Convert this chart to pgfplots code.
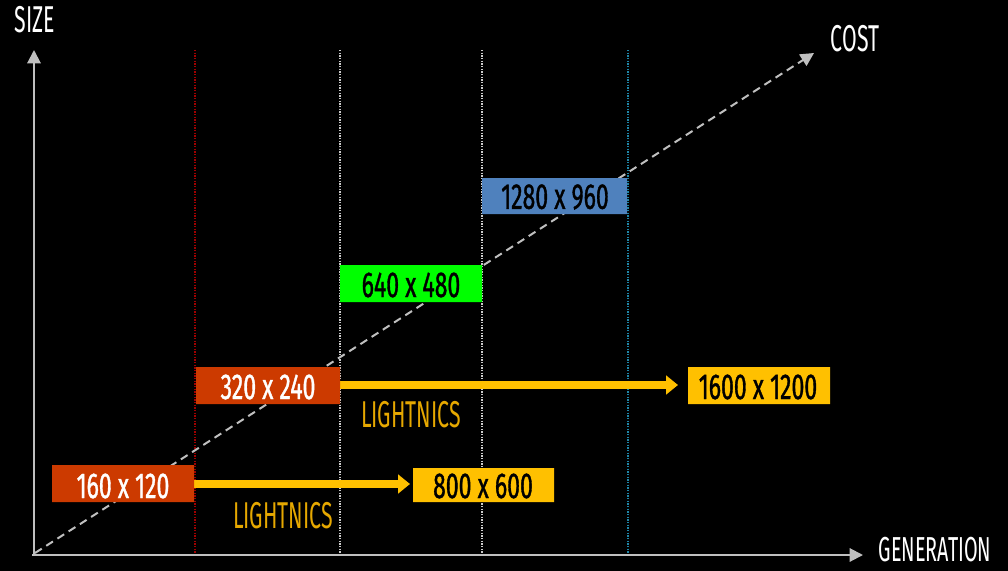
\documentclass[border=0pt]{standalone}
\usepackage{fontspec}
\setmainfont{Fira Sans}[FakeStretch=0.64]
\newfontfamily\boxfont{Fira Sans}[FakeStretch=0.64, FakeBold=1.0]
\newfontfamily\narrowfont{Fira Sans}[FakeStretch=0.57]
\usepackage{pgfplots}
\pgfplotsset{compat=1.18}
\usetikzlibrary{arrows.meta}
\definecolor{boxred}{HTML}{CC3A00}
\definecolor{boxyel}{HTML}{FFC000}
\definecolor{boxgrn}{HTML}{00FF00}
\definecolor{boxblu}{HTML}{4F81BD}
\definecolor{txtyel}{HTML}{E6A800}
\definecolor{axgray}{HTML}{BFBFBF}
\definecolor{vred}{HTML}{A00000}
\definecolor{vcyan}{HTML}{1F86A8}
\begin{document}
\begin{tikzpicture}[x=0.75pt,y=0.75pt]
\begin{axis}[
  scale only axis, width=756pt, height=428.25pt,
  xmin=0, xmax=1008, ymin=0, ymax=571, y dir=reverse,
  hide axis, clip=false,
]
\fill[black] (axis cs:0,0) rectangle (axis cs:1008,571);
% vertical dotted lines
\addplot[vred, line width=1pt, dash pattern=on 1pt off 1pt] coordinates {(195,50) (195,553)};
\addplot[white!80!black, line width=1pt, dash pattern=on 1pt off 1pt] coordinates {(340,50) (340,553)};
\addplot[white!80!black, line width=1pt, dash pattern=on 1pt off 1pt] coordinates {(482,50) (482,553)};
\addplot[vcyan, line width=1pt, dash pattern=on 1pt off 1pt] coordinates {(628,50) (628,553)};
% axes
\addplot[axgray, line width=1.5pt, -{Triangle[length=10pt,width=10pt]}] coordinates {(34,556) (34,50)};
\addplot[axgray, line width=1.5pt, -{Triangle[length=10pt,width=10pt]}] coordinates {(32,555) (863,555)};
% cost diagonal
\addplot[axgray, line width=1.5pt, dash pattern=on 6pt off 4pt, -{Triangle[length=10pt,width=10pt]}] coordinates {(35,553) (814,53)};
% yellow arrows
\addplot[boxyel, line width=6.5pt, -{Triangle[length=9pt,width=14pt]}] coordinates {(194,484) (410,484)};
\addplot[boxyel, line width=6.5pt, -{Triangle[length=9pt,width=14pt]}] coordinates {(340,385) (678,385)};
% boxes
\addplot[fill=boxred, draw=none] coordinates {(52,465) (194,465) (194,502) (52,502) (52,465)};
\addplot[fill=boxyel, draw=none] coordinates {(413,468) (554,468) (554,502) (413,502) (413,468)};
\addplot[fill=boxred, draw=none] coordinates {(196,367) (340,367) (340,404) (196,404) (196,367)};
\addplot[fill=boxyel, draw=none] coordinates {(688,367) (830,367) (830,404) (688,404) (688,367)};
\addplot[fill=boxgrn, draw=none] coordinates {(340,265) (482,265) (482,302) (340,302) (340,265)};
\addplot[fill=boxblu, draw=none] coordinates {(482,178) (627,178) (627,214) (482,214) (482,178)};
% labels
\tikzset{lbl/.style={font=\boxfont\fontsize{27}{29}\selectfont, inner sep=0pt},
         nlbl/.style={font=\narrowfont\fontsize{28}{30}\selectfont, inner sep=0pt}}
\node[lbl, text=white] at (axis cs:123,486) {160 x 120};
\node[lbl, text=black] at (axis cs:483,486) {800 x 600};
\node[lbl, text=white] at (axis cs:268,387) {320 x 240};
\node[lbl, text=black] at (axis cs:758,387) {1600 x 1200};
\node[lbl, text=black] at (axis cs:411,285) {640 x 480};
\node[lbl, text=black] at (axis cs:555,197) {1280 x 960};
\node[nlbl, text=txtyel] at (axis cs:283,516) {LIGHTNICS};
\node[nlbl, text=txtyel] at (axis cs:411,415) {LIGHTNICS};
\node[nlbl, text=white] at (axis cs:35,20) {SIZE};
\node[nlbl, text=white] at (axis cs:855,39) {COST};
\node[nlbl, text=white, font=\narrowfont\fontsize{26}{28}\selectfont] at (axis cs:935,550) {GENERATION};
\end{axis}
\end{tikzpicture}
\end{document}
